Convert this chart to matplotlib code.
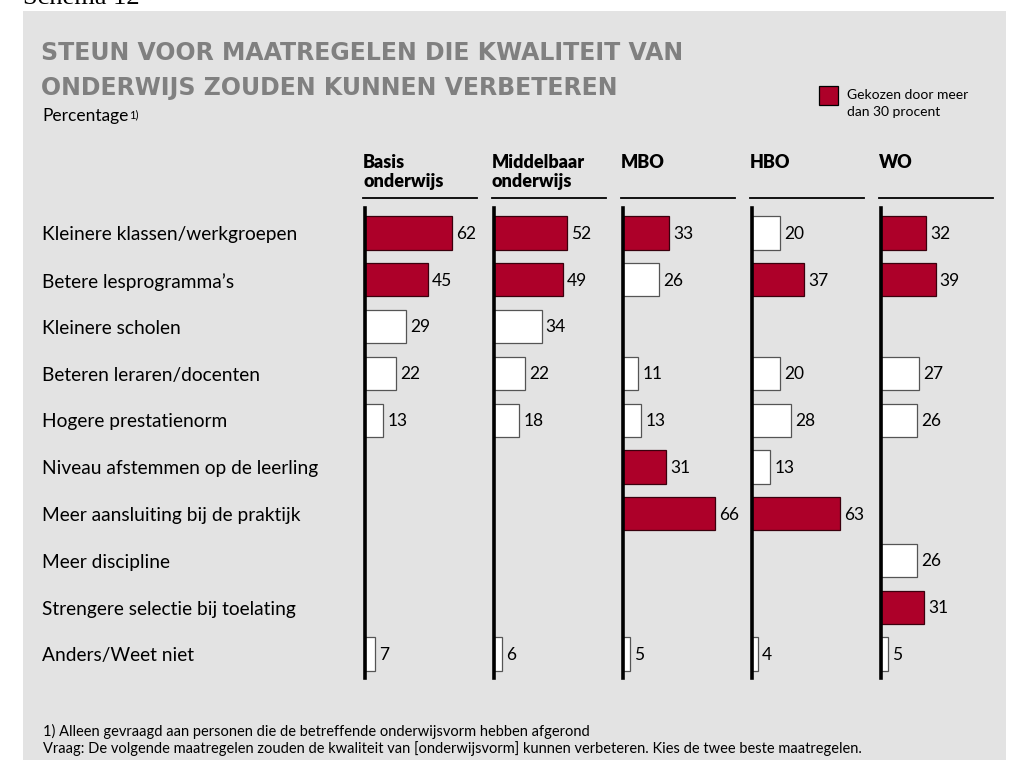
import matplotlib
matplotlib.use('Agg')
import matplotlib.pyplot as plt
from matplotlib.patches import Rectangle
from matplotlib.lines import Line2D
from matplotlib.transforms import blended_transform_factory
import numpy as np

plt.rcParams['font.family'] = ['Lato', 'DejaVu Sans']

# --- data -------------------------------------------------------------
categories = [
    'Kleinere klassen/werkgroepen',
    'Betere lesprogramma\u2019s',
    'Kleinere scholen',
    'Beteren leraren/docenten',
    'Hogere prestatienorm',
    'Niveau afstemmen op de leerling',
    'Meer aansluiting bij de praktijk',
    'Meer discipline',
    'Strengere selectie bij toelating',
    'Anders/Weet niet',
]
columns = ['Basis\nonderwijs', 'Middelbaar\nonderwijs', 'MBO', 'HBO', 'WO']
nan = np.nan
basis = [62, 45, 29, 22, 13, nan, nan, nan, nan, 7]
middelbaar = [52, 49, 34, 22, 18, nan, nan, nan, nan, 6]
mbo = [33, 26, nan, 11, 13, 31, 66, nan, nan, 5]
hbo = [20, 37, nan, 20, 28, 13, 63, nan, nan, 4]
wo = [32, 39, nan, 27, 26, nan, nan, 26, 31, 5]
series = [basis, middelbaar, mbo, hbo, wo]

# which bars are marked red ("gekozen door meer dan 30 procent")
basis_hl = [1, 1, 0, 0, 0, 0, 0, 0, 0, 0]
middelbaar_hl = [1, 1, 0, 0, 0, 0, 0, 0, 0, 0]
mbo_hl = [1, 0, 0, 0, 0, 1, 1, 0, 0, 0]
hbo_hl = [0, 1, 0, 0, 0, 0, 1, 0, 0, 0]
wo_hl = [1, 1, 0, 0, 0, 0, 0, 0, 1, 0]
highlights = [basis_hl, middelbaar_hl, mbo_hl, hbo_hl, wo_hl]

title_lines = ['STEUN VOOR MAATREGELEN DIE KWALITEIT VAN',
               'ONDERWIJS ZOUDEN KUNNEN VERBETEREN']
legend_lines = ['Gekozen door meer', 'dan 30 procent']
footnotes = ['1) Alleen gevraagd aan personen die de betreffende onderwijsvorm hebben afgerond',
             'Vraag: De volgende maatregelen zouden de kwaliteit van [onderwijsvorm] '
             'kunnen verbeteren. Kies de twee beste maatregelen.']

RED = '#ad0029'
BG = '#e3e3e3'

# --- layout helpers (pixel -> figure fraction) -------------------------
W, H = 1014, 760
fig = plt.figure(figsize=(W / 100, H / 100), dpi=100)


def fx(px):
    return px / W


def fy(py):
    return 1 - py / H


# gray panel, behind everything
fig.patches.append(Rectangle((fx(23), 0), fx(1006) - fx(23), fy(11),
                             transform=fig.transFigure, facecolor=BG,
                             edgecolor='none', zorder=-10))

fig.text(fx(23), fy(4), 'Schema 12', family='Liberation Serif', fontsize=19,
         va='baseline')

for k, line in enumerate(title_lines):
    fig.text(fx(41), fy(60 + 35 * k), line, fontsize=17, weight='bold',
             family='DejaVu Sans', color='#808080', va='baseline')

# bars
ROW0, ROWSTEP = 233, 46.78
PX_PER_UNIT = 1.4
axes = []
for i, (name, vals, hl) in enumerate(zip(columns, series, highlights)):
    x0 = 365 + 129 * i
    ax = fig.add_axes([fx(x0), fy(678), 114 / W, 470 / H])
    ax.set_xlim(0, 114 / PX_PER_UNIT)
    ax.set_ylim(9 + (678 - ROW0 - 9 * ROWSTEP) / ROWSTEP, -(ROW0 - 208) / ROWSTEP)
    vals = np.array(vals, dtype=float)
    hl = np.array(hl, dtype=bool)
    y = np.arange(len(vals))
    ok = ~np.isnan(vals)
    v = vals[ok]
    red = hl[ok]
    ax.barh(y[ok], v, height=0.71,
            color=[RED if r else 'white' for r in red],
            edgecolor=['#3a000d' if r else '#555555' for r in red],
            linewidth=0.9, zorder=2)
    for yy, val in zip(y[ok], v):
        ax.text(val + 3.0, yy + 0.02, f'{int(val)}', va='center', ha='left',
                fontsize=12.5, clip_on=False)
    for s in ['top', 'right', 'bottom']:
        ax.spines[s].set_visible(False)
    ax.spines['left'].set_linewidth(2.6)
    ax.spines['left'].set_zorder(3)
    ax.set_xticks([])
    ax.set_yticks([])
    ax.patch.set_visible(False)

    # header
    fig.add_artist(Line2D([fx(x0 - 2), fx(x0 + 112)], [fy(198), fy(198)],
                          color='black', lw=1.3))
    for j, part in enumerate(name.split('\n')):
        fig.text(fx(x0 - 2), fy(168 + 19 * j), part, fontsize=13,
                 weight='heavy', va='baseline')
    axes.append(ax)

# category labels
trans = blended_transform_factory(fig.transFigure, axes[0].transData)
for k, cat in enumerate(categories):
    axes[0].text(fx(42), k + 0.04, cat, transform=trans, fontsize=13.8,
                 va='center', ha='left', clip_on=False)

# subtitle with footnote marker
t = fig.text(fx(42), fy(121), 'Percentage', fontsize=12.5, va='baseline')
axes[0].annotate('1)', xy=(1.0, 0.92), xycoords=t, xytext=(0.5, 0),
                 textcoords='offset points', fontsize=8, va='top',
                 annotation_clip=False)

# legend
fig.patches.append(Rectangle((fx(819), fy(105)), 19 / W, 19 / H,
                             transform=fig.transFigure, facecolor=RED,
                             edgecolor='black', lw=0.9))
for j, line in enumerate(legend_lines):
    fig.text(fx(847), fy(99 + 17 * j), line, fontsize=10, va='baseline')

# footnotes
for j, line in enumerate(footnotes):
    fig.text(fx(43), fy(736 + 17 * j), line, fontsize=10.5, va='baseline')

fig.savefig('out.png', dpi=100)
